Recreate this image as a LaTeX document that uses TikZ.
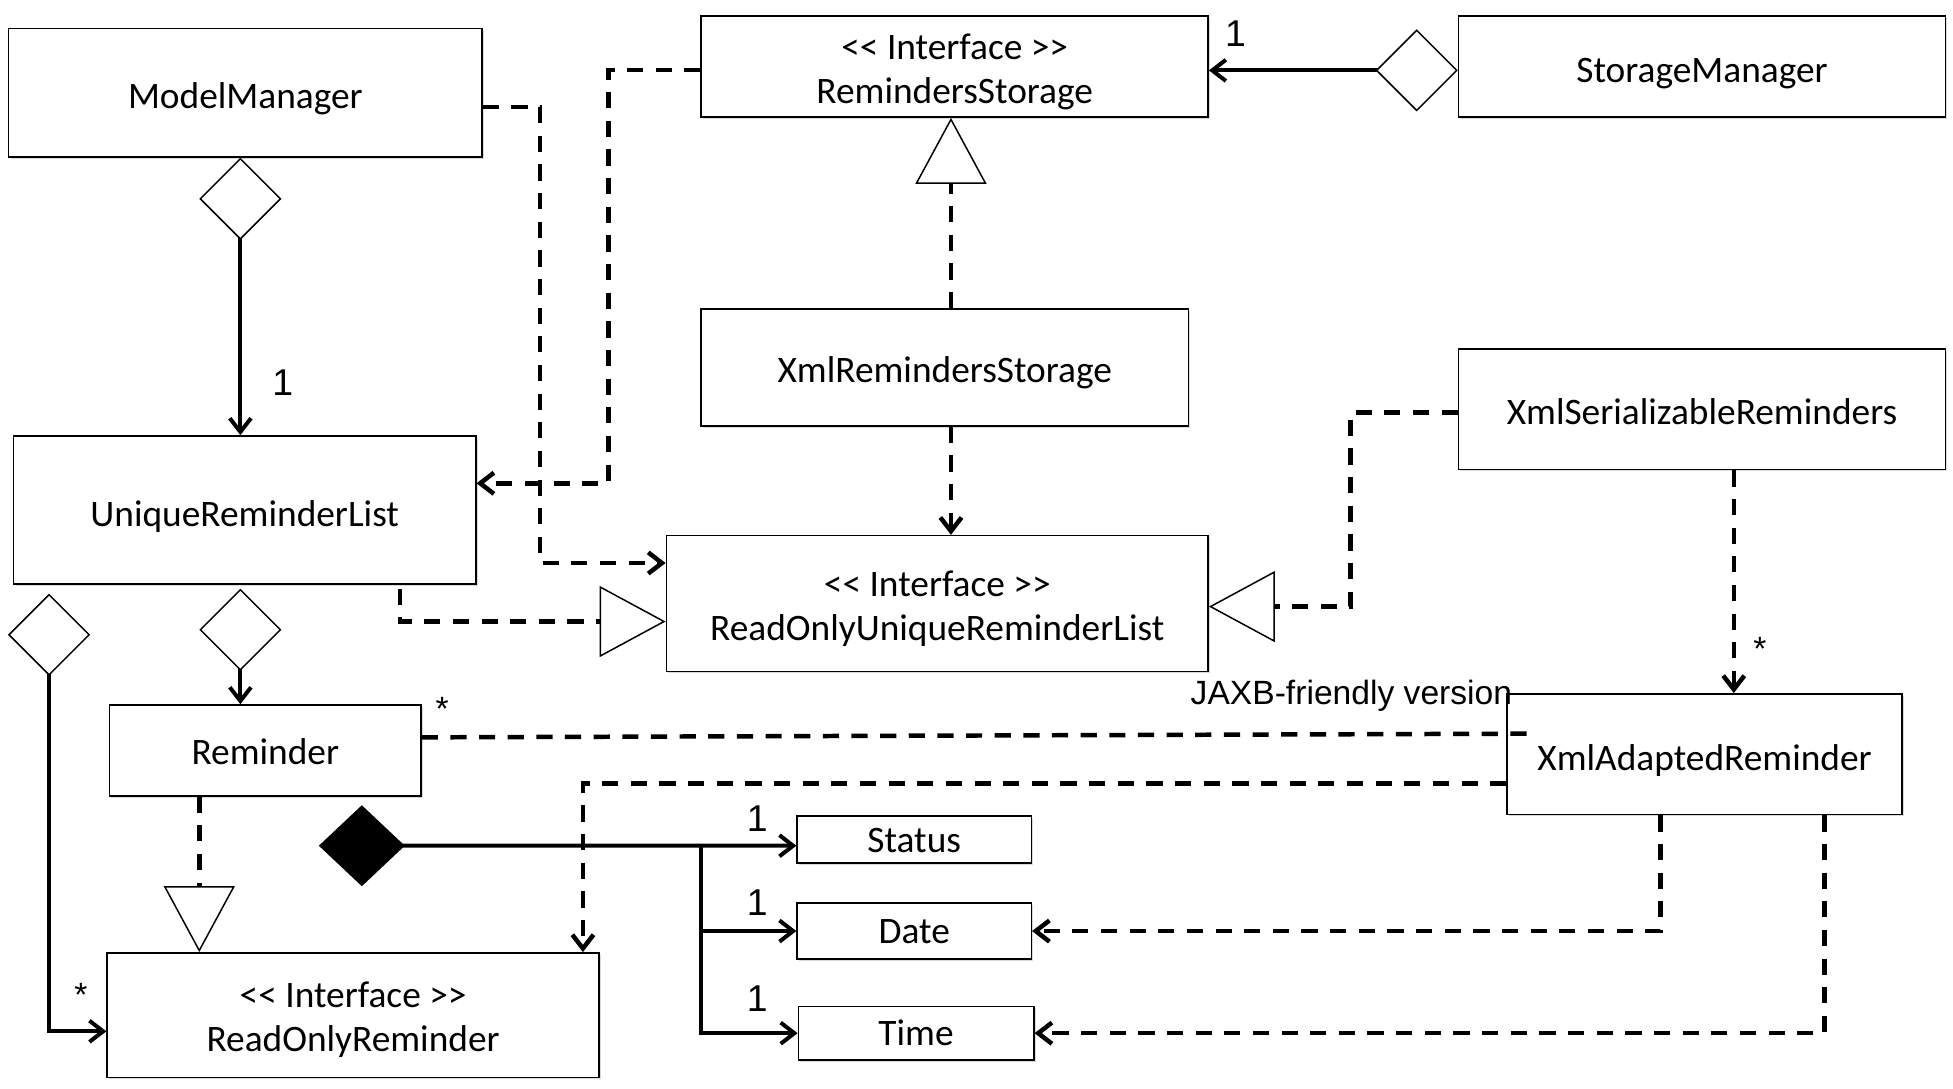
\documentclass[tikz,border=0pt]{standalone}
\usepackage{fontspec}
\setmainfont{Carlito}
\newfontfamily\lblfont{Liberation Sans}
\usetikzlibrary{arrows.meta,shadows}

% class name, set a little below the middle of its box
\newcommand\cname[2][5bp]{\raisebox{-#1}[\height][\depth]{\begin{tabular}{@{}c@{}}#2\end{tabular}}}

\begin{document}
\begin{tikzpicture}[
  cls/.style={draw,line width=1.2bp,fill=white,align=center,inner sep=0pt,
    font=\fontsize{30bp}{35bp}\selectfont,
    drop shadow={shadow xshift=1.5bp,shadow yshift=-1.5bp,opacity=0.3}},
  lbl/.style={font=\lblfont\fontsize{27bp}{30bp}\selectfont,inner sep=0pt},
  mult/.style={font=\lblfont\fontsize{30bp}{33bp}\selectfont,inner sep=0pt},
  assoc/.style={line width=3.2bp,-{Straight Barb[length=11bp,width=17bp]}},
  dep/.style={line width=3.6bp,dash pattern=on 13bp off 10bp,-{Straight Barb[length=11bp,width=17bp]}},
  real/.style={line width=3.6bp,dash pattern=on 13bp off 10bp,-{Triangle[fill=white,length=53bp,width=57bp,line width=1.2bp]}},
  aggr/.style={line width=3.2bp,{Diamond[fill=white,length=66bp,width=66bp,line width=1.2bp]}-{Straight Barb[length=11bp,width=17bp]}},
  compo/.style={line width=3.2bp,{Diamond[length=69bp,width=65bp]}-{Straight Barb[length=11bp,width=17bp]}}
]
\useasboundingbox (0,0) rectangle (1568bp,-874bp);

\node (mm) at (197bp,-74.5bp)[cls,minimum width=380bp,minimum height=103bp] {\cname[6bp]{ModelManager}};
\node (rs) at (766.5bp,-53.5bp)[cls,minimum width=407bp,minimum height=81bp] {\cname{<{}< Interface >{}>\\RemindersStorage}};
\node (sm) at (1366.5bp,-53.5bp)[cls,minimum width=391bp,minimum height=81bp] {\cname[6bp]{StorageManager}};
\node (url) at (196.5bp,-409.5bp)[cls,minimum width=371bp,minimum height=119bp] {\cname[6bp]{UniqueReminderList}};
\node (xrs) at (758.5bp,-295bp)[cls,minimum width=391bp,minimum height=94bp] {\cname{XmlRemindersStorage}};
\node (rourl) at (752.5bp,-484.5bp)[cls,minimum width=435bp,minimum height=109bp] {\cname{<{}< Interface >{}>\\ReadOnlyUniqueReminderList}};
\node (xsr) at (1366.5bp,-328.5bp)[cls,minimum width=391bp,minimum height=97bp] {\cname{XmlSerializableReminders}};
\node (xar) at (1368.5bp,-605.5bp)[cls,minimum width=317bp,minimum height=97bp] {\cname[6bp]{XmlAdaptedReminder}};
\node (rem) at (213bp,-602.5bp)[cls,minimum width=250bp,minimum height=73bp] {\cname[4bp]{Reminder}};
\node (ror) at (283.5bp,-815bp)[cls,minimum width=395bp,minimum height=100bp] {\cname[4.5bp]{<{}< Interface >{}>\\ReadOnlyReminder}};
\node (status) at (734bp,-674bp)[cls,minimum width=188bp,minimum height=38bp] {\cname[3.5bp]{Status}};
\node (date) at (734bp,-747.5bp)[cls,minimum width=188bp,minimum height=45bp] {\cname[3bp]{Date}};
\node (time) at (735.5bp,-829.5bp)[cls,minimum width=189bp,minimum height=43bp] {\cname[3bp]{Time}};

\coordinate (comp) at (256bp,-679bp);
\coordinate (fork) at (563bp,-679bp);

% aggregations
\draw [aggr] ([yshift=-3bp]sm.west) -- ([yshift=-3bp]rs.east);
\draw [aggr] ([xshift=-4bp]mm.south) -- ([xshift=-4bp]mm.south |- url.north);
\draw [aggr] ([xshift=-3.5bp,yshift=-3bp]url.south) -- ([xshift=-3.5bp]url.south |- rem.north);
\draw [aggr] ([xshift=29bp,yshift=-7bp]url.south west) |- ([yshift=-13bp]ror.west);

% composition of Reminder
\draw [compo] (comp) -- ([yshift=-5bp]status.west);
\draw [assoc] (fork) |- (date.west);
\draw [assoc] (fork) |- (time.west);

% realizations
\draw [real] ([xshift=5bp]xrs.north) -- ([xshift=5bp]xrs.north |- rs.south);
\draw [real] ([xshift=124.5bp,yshift=-3bp]url.south) |- ([yshift=-14.5bp]rourl.west);
\draw [real] ([yshift=-2.5bp]xsr.west) -- ++(-86bp,0) |- ([yshift=-2.5bp]rourl.east);
\draw [real] ([xshift=-53bp]rem.south) -- ([xshift=-53bp]rem.south |- ror.north);

% dependencies
\draw [dep] ([yshift=-11.5bp]mm.east) -- ++(46bp,0) |- ([yshift=32.5bp]rourl.west);
\draw [dep] ([yshift=-2.5bp]rs.west) -- ++(-74bp,0) |- ([yshift=21.5bp]url.east);
\draw [dep] ([xshift=5bp]xrs.south) -- ([xshift=5bp]xrs.south |- rourl.north);
\draw [dep] ([xshift=25.5bp]xsr.south) -- ([xshift=25.5bp]xsr.south |- xar.north);
\draw [dep] ([yshift=-23.5bp]xar.west) -| ([xshift=184.5bp]ror.north);
\draw [dep] ([xshift=-35.5bp]xar.south) |- (date.east);
\draw [dep] ([xshift=96.5bp]xar.south) |- (time.east);
\draw [dep,-] ([yshift=10.5bp]rem.east) -- ([xshift=26bp,yshift=16.5bp]xar.west);

% multiplicities
\node (m1) at (992bp,-27bp)[mult] {1};
\node (m2) at (227bp,-307bp)[mult] {1};
\node (m3) at (355bp,-569bp)[lbl] {*};
\node (m4) at (1413bp,-521bp)[lbl] {*};
\node (m5) at (65bp,-799bp)[lbl] {*};
\node (m6) at (608bp,-657bp)[mult] {1};
\node (m7) at (608bp,-725bp)[mult] {1};
\node (m8) at (608bp,-802bp)[mult] {1};
\node (jaxb) at (1085bp,-559bp)[lbl] {JAXB-friendly version};
\end{tikzpicture}
\end{document}
